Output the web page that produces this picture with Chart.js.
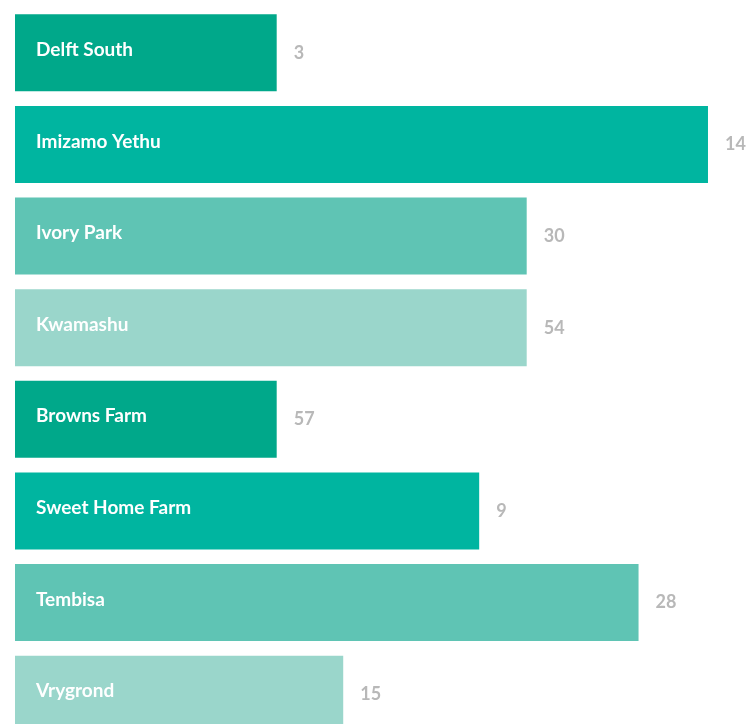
<!DOCTYPE html>
<html>
<head>
<meta charset="utf-8">
<script src="https://cdn.jsdelivr.net/npm/chart.js@4/dist/chart.umd.min.js"></script>
<style>
  html, body { margin: 0; padding: 0; background: #fff; overflow: hidden; }
  #wrap { position: relative; width: 746px; height: 740px; }
</style>
</head>
<body>
<div id="wrap"><canvas id="chart"></canvas></div>
<script>
const places = ["Delft South", "Imizamo Yethu", "Ivory Park", "Kwamashu", "Browns Farm", "Sweet Home Farm", "Tembisa", "Vrygrond"];
const barValues = [35.8, 94.8, 70, 70, 35.8, 63.5, 85.3, 44.9];
const endLabels = [3, 14, 30, 54, 57, 9, 28, 15];
const palette = ["#00a88a", "#00b5a0", "#5fc4b4", "#9ad6cb"];

// names inside the bars, numbers just past the bar ends
const barText = {
  id: "barText",
  afterDatasetsDraw(chart) {
    const ctx = chart.ctx;
    const meta = chart.getDatasetMeta(0);
    ctx.save();
    ctx.textBaseline = "middle";
    meta.data.forEach((bar, i) => {
      ctx.font = "700 19px Lato, 'Open Sans', sans-serif";
      ctx.fillStyle = "#ffffff";
      ctx.textAlign = "left";
      ctx.fillText(places[i], 36, bar.y - 3);
      ctx.font = "700 18px Lato, 'Open Sans', sans-serif";
      ctx.fillStyle = "#b8b8b8";
      ctx.fillText(String(endLabels[i]), bar.x + 17, bar.y);
    });
    ctx.restore();
  }
};

new Chart(document.getElementById("chart").getContext("2d"), {
  type: "bar",
  data: {
    labels: places,
    datasets: [{
      data: barValues,
      backgroundColor: places.map((_, i) => palette[i % palette.length]),
      borderWidth: 0,
      barPercentage: 1,
      categoryPercentage: 0.84
    }]
  },
  options: {
    indexAxis: "y",
    responsive: true,
    maintainAspectRatio: false,
    animation: false,
    layout: { padding: { left: 15, top: 7, right: 0, bottom: 0 } },
    plugins: { legend: { display: false }, tooltip: { enabled: false } },
    scales: {
      x: { display: false, min: 0, max: 100 },
      y: { display: false }
    }
  },
  plugins: [barText]
});
</script>
</body>
</html>
